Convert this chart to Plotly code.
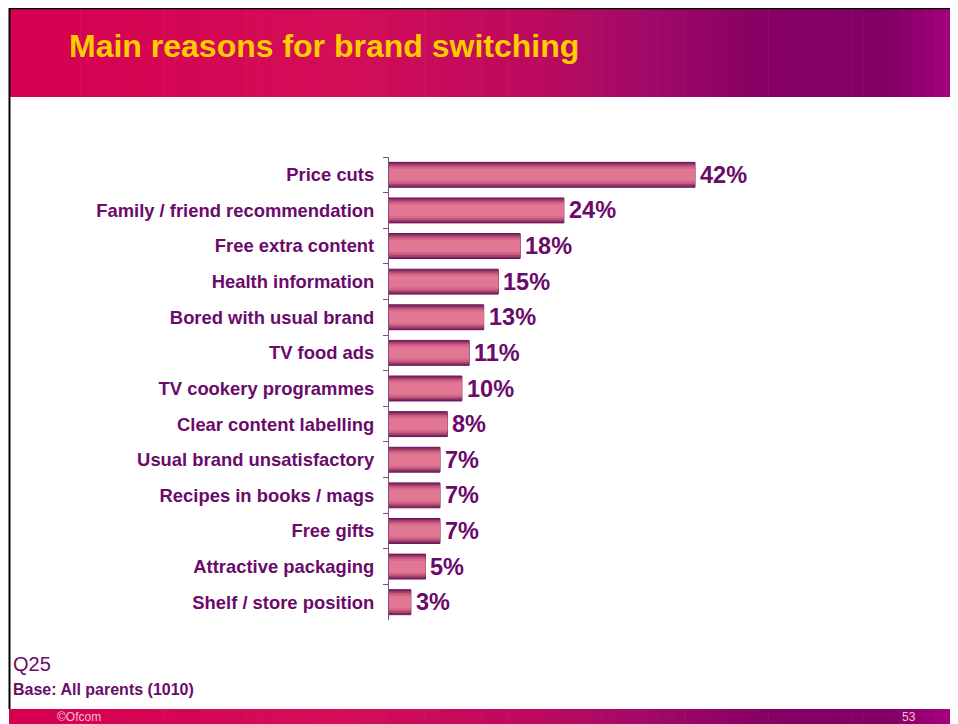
import plotly.graph_objects as go

categories = ["Price cuts", "Family / friend recommendation", "Free extra content",
              "Health information", "Bored with usual brand", "TV food ads",
              "TV cookery programmes", "Clear content labelling",
              "Usual brand unsatisfactory", "Recipes in books / mags", "Free gifts",
              "Attractive packaging", "Shelf / store position"]
values = [42, 24, 18, 15, 13, 11, 10, 8, 7, 7, 7, 5, 3]
value_labels = ["42%", "24%", "18%", "15%", "13%", "11%", "10%", "8%", "7%", "7%", "7%", "5%", "3%"]

OFF = 8  # page body margin
W, H = 958 - OFF, 724 - OFF
PURPLE = "#6b0a6b"

# target page-pixel geometry of the plot area
AX_L, AX_R, AX_T, AX_B = 389, 889, 157, 620
PW, PH = AX_R - AX_L, AX_B - AX_T

def px(x):
    return (x - AX_L) / PW
def py(y):
    return (AX_B - y) / PH

fig = go.Figure()

# layered bars to imitate the shaded bars
layers = [(0.70, "#7e2a5c", "#6e1262", 1), (0.61, "#a04069", None, 0),
          (0.52, "#c25a7f", None, 0), (0.43, "#d8698b", None, 0), (0.32, "#e27794", None, 0)]
for wd, col, lc, lw in layers:
    fig.add_trace(go.Bar(
        y=categories, x=values, orientation="h", width=wd,
        marker=dict(color=col, line=dict(color=lc or col, width=lw)),
        hoverinfo="skip", showlegend=False))

for c, v, t in zip(categories, values, value_labels):
    fig.add_annotation(x=v, y=c, text=t, showarrow=False, xanchor="left", xshift=3,
                       font=dict(family="Liberation Sans", size=23.5, color=PURPLE, weight="bold"))

# header / footer gradient strips
stops = [(0.0, (214, 0, 80)), (0.35, (212, 14, 88)), (0.55, (190, 10, 95)),
         (0.68, (160, 10, 105)), (0.8, (135, 0, 100)), (0.93, (130, 0, 100)), (1.0, (165, 0, 125))]
def col_at(f):
    for (a, ca), (b, cb) in zip(stops, stops[1:]):
        if a <= f <= b:
            t = (f - a) / (b - a)
            return "rgb(%d,%d,%d)" % tuple(int(ca[i] + (cb[i] - ca[i]) * t) for i in range(3))
    return "rgb(165,0,125)"

shapes = []
N = 80
x0p, x1p = 9, 958
for i in range(N):
    xa = x0p + (x1p - x0p) * i / N
    xb = x0p + (x1p - x0p) * (i + 1) / N + 0.6
    c = col_at(i / (N - 1))
    for ya, yb in [(9, 97), (709, 726)]:
        shapes.append(dict(type="rect", xref="paper", yref="paper",
                           x0=px(xa), x1=px(xb), y0=py(yb), y1=py(ya),
                           fillcolor=c, line=dict(width=0), layer="below"))
# borders
shapes.append(dict(type="line", xref="paper", yref="paper",
                   x0=px(9), x1=px(960), y0=py(8), y1=py(8),
                   line=dict(color="black", width=2.5)))
shapes.append(dict(type="line", xref="paper", yref="paper",
                   x0=px(9.5), x1=px(9.5), y0=py(7), y1=py(709),
                   line=dict(color="black", width=2)))

fig.add_annotation(xref="paper", yref="paper", x=px(67), y=py(46), xanchor="left", yanchor="middle",
                   text="Main reasons for brand switching", showarrow=False,
                   font=dict(family="Liberation Sans", size=32, color="#ffcc00", weight="bold"))
fig.add_annotation(xref="paper", yref="paper", x=px(11), y=py(664), xanchor="left", yanchor="middle",
                   text="Q25", showarrow=False,
                   font=dict(family="Liberation Sans", size=20, color=PURPLE))
fig.add_annotation(xref="paper", yref="paper", x=px(11), y=py(689), xanchor="left", yanchor="middle",
                   text="Base: All parents (1010)", showarrow=False,
                   font=dict(family="Liberation Sans", size=16, color=PURPLE, weight="bold"))
fig.add_annotation(xref="paper", yref="paper", x=px(55), y=py(716.5), xanchor="left", yanchor="middle",
                   text="©Ofcom", showarrow=False,
                   font=dict(family="Liberation Sans", size=12, color="#f0c0d0"))
fig.add_annotation(xref="paper", yref="paper", x=px(918), y=py(716.5), xanchor="right", yanchor="middle",
                   text="53", showarrow=False,
                   font=dict(family="Liberation Sans", size=12, color="#f0c0d0"))

fig.update_layout(
    width=W, height=H, barmode="overlay",
    margin=dict(l=AX_L - OFF, r=W - (AX_R - OFF), t=AX_T - OFF, b=H - (AX_B - OFF), pad=0),
    paper_bgcolor="white", plot_bgcolor="white",
    shapes=shapes,
    xaxis=dict(range=[0, PW / (306 / 42)], visible=False, fixedrange=True),
    yaxis=dict(autorange="reversed", showline=True, linecolor="#8a4a8a", linewidth=1.2,
               ticks="outside", ticklen=5, tickcolor="#8a4a8a", tickson="boundaries",
               showgrid=False, ticklabelstandoff=10,
               tickfont=dict(family="Liberation Sans", size=18.4, color=PURPLE, weight="bold")),
)
fig.write_html("out.html")
